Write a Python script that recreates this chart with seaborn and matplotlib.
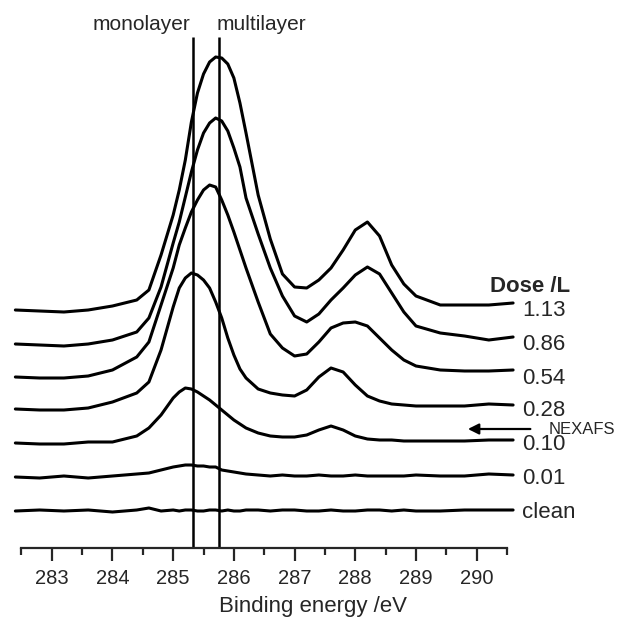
import matplotlib
matplotlib.use('Agg')
import matplotlib.pyplot as plt
import seaborn as sns
import pandas as pd
import numpy as np

energy = [282.4, 282.8, 283.2, 283.6, 284.0, 284.4, 284.6, 284.8, 285.0, 285.1,
          285.2, 285.3, 285.4, 285.5, 285.6, 285.7, 285.8, 285.9, 286.0, 286.1,
          286.2, 286.4, 286.6, 286.8, 287.0, 287.2, 287.4, 287.6, 287.8, 288.0,
          288.2, 288.4, 288.6, 288.8, 289.0, 289.4, 289.8, 290.2, 290.6]

doses = ['1.13', '0.86', '0.54', '0.28', '0.10', '0.01', 'clean']
offsets = [238, 204, 171, 139, 105, 71, 37]  # vertical stacking of the spectra

s113 = [0, -1, -2, 0, 4, 10, 20, 55, 95, 120, 150, 188, 217, 236, 248, 253, 252, 246, 232, 207,
        177, 115, 71, 36, 23, 22, 30, 42, 60, 80, 88, 74, 45, 26, 14, 5, 5, 5, 7]
s086 = [0, -1, -2, 0, 4, 12, 26, 57, 101, 122, 147, 172, 194, 211, 221, 226, 223, 213, 196, 177,
        146, 110, 76, 48, 28, 22, 30, 44, 56, 69, 77, 70, 51, 32, 18, 11, 8, 4, 7]
s054 = [0, -1, -1, 1, 7, 20, 35, 72, 109, 132, 149, 165, 177, 187, 192, 190, 177, 162, 145, 127,
        109, 75, 43, 29, 21, 23, 35, 49, 54, 55, 51, 39, 27, 17, 11, 7, 6, 6, 7]
s028 = [0, -1, -1, 1, 7, 16, 27, 59, 102, 121, 131, 136, 134, 129, 121, 107, 91, 71, 54, 40,
        31, 20, 16, 14, 13, 19, 32, 41, 37, 24, 13, 8, 5, 4, 3, 3, 3, 5, 4]
s010 = [0, -1, -1, 1, 1, 7, 15, 28, 45, 51, 55, 54, 51, 47, 43, 38, 33, 28, 23, 19,
        15, 10, 7, 6, 6, 8, 13, 17, 13, 7, 4, 3, 3, 2, 2, 2, 2, 3, 3]
s001 = [0, -1, 1, -1, 1, 3, 4, 7, 10, 11, 12, 12, 11, 11, 10, 10, 7, 6, 5, 4,
        3, 2, 1, 2, 1, 1, 2, 1, 1, 2, 1, 1, 1, 1, 2, 1, 1, 3, 2]
sclean = [0, 1, 0, 1, -1, 1, 3, 0, 1, 0, 1, 1, 0, 0, 1, 1, 0, 1, 0, 0,
          1, 1, 0, 1, 1, 0, 0, 1, 0, 0, 1, 1, 0, 1, 0, 0, 1, 1, 1]
spectra = [s113, s086, s054, s028, s010, s001, sclean]

layer_pos = [285.32, 285.76]  # monolayer, multilayer
nexafs_y = 119

rows = []
for dose, off, sig in zip(doses, offsets, spectra):
    for e, v in zip(energy, sig):
        rows.append({'energy': e, 'signal': v + off, 'dose': dose})
df = pd.DataFrame(rows)

sns.set_style('white')
plt.rcParams['font.family'] = ['Liberation Sans', 'DejaVu Sans']

fig = plt.figure(figsize=(6.26, 6.18), dpi=100)
ax = fig.add_axes([0, 0, 1, 1])
sns.lineplot(data=df, x='energy', y='signal', units='dose', estimator=None,
             color='black', lw=2.2, solid_joinstyle='round', solid_capstyle='round', ax=ax)

ax.set_xlim(282.147, 292.46)
ax.set_ylim(-70, 548)
for s in ['left', 'right', 'top']:
    ax.spines[s].set_visible(False)
ax.spines['bottom'].set_position(('data', 0))
ax.spines['bottom'].set_bounds(282.5, 290.5)
ax.spines['bottom'].set_linewidth(1.6)
ax.set_xticks(range(283, 291))
ax.set_xticks(np.arange(282.5, 291, 1.0), minor=True)
ax.tick_params(axis='x', which='major', direction='out', length=9, width=1.6,
               labelsize=14.5, pad=6, bottom=True)
ax.tick_params(axis='x', which='minor', direction='out', length=5, width=1.6, bottom=True)
ax.set_yticks([])
ax.set_ylabel('')
ax.set_xlabel('Binding energy /eV', fontsize=16, labelpad=6)

ax.vlines(layer_pos, 0, 511, color='black', lw=1.8)
ax.text(285.28, 523, 'monolayer', ha='right', va='center', fontsize=15)
ax.text(285.72, 523, 'multilayer', ha='left', va='center', fontsize=15)

for dose, off in zip(doses, offsets):
    ax.text(290.75, off - 1, dose, ha='left', va='center', fontsize=16)
ax.text(290.22, 261, 'Dose /L', ha='left', va='center', fontsize=16, fontweight='bold')

ax.annotate('', xy=(289.81, nexafs_y), xytext=(290.93, nexafs_y),
            arrowprops=dict(arrowstyle='-|>', color='black', lw=1.6, mutation_scale=16))
ax.text(291.18, nexafs_y, 'NEXAFS', ha='left', va='center', fontsize=12)

fig.savefig('out.png', dpi=100)
